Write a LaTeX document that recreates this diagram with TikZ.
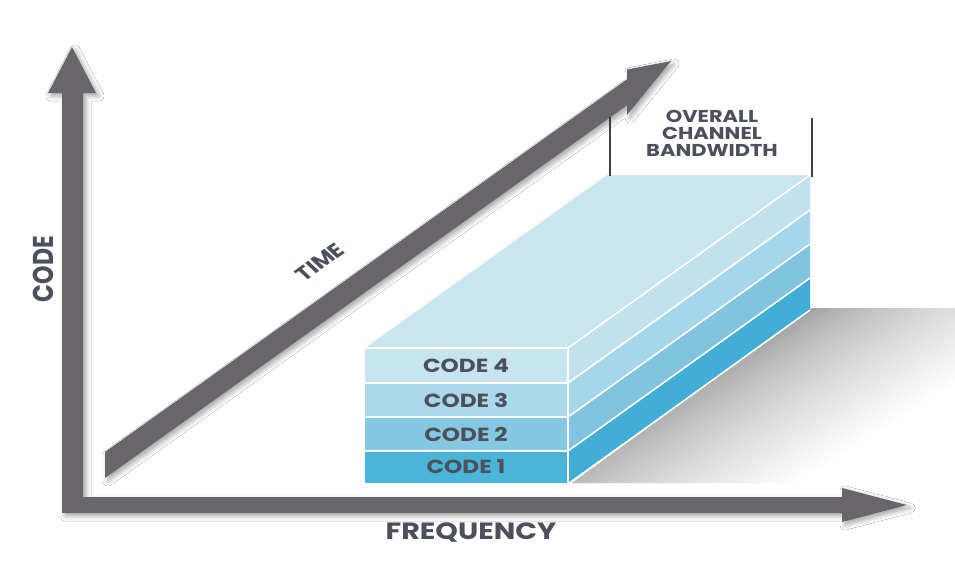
\documentclass[tikz,border=0pt]{standalone}
\usepackage{fontspec}
\setmainfont{Poppins}
\usetikzlibrary{shadows.blur}

\definecolor{axisgray}{HTML}{68666B}
\definecolor{labelgray}{HTML}{4C505B}
\definecolor{bracketgray}{HTML}{3E3E48}
\definecolor{topface}{HTML}{C9E5F0}
\definecolor{frontA}{HTML}{4BB5D9}
\definecolor{frontB}{HTML}{86C7E1}
\definecolor{frontC}{HTML}{A9D9EB}
\definecolor{frontD}{HTML}{C7E5EF}
\definecolor{sideA}{HTML}{42AED7}
\definecolor{sideB}{HTML}{82C4DF}
\definecolor{sideC}{HTML}{A6D6E9}
\definecolor{sideD}{HTML}{C2E1ED}

% text is set slightly wider than the font's natural width
\tikzset{
  bigarrow/.style={fill=axisgray, draw=none,
    blur shadow={shadow xshift=3pt, shadow yshift=-3pt,
      shadow blur radius=5pt, shadow opacity=35}},
  edge/.style={draw=white, line width=1.6pt, line join=round},
  lbl/.style={text=labelgray, inner sep=0pt, xscale=1.22},
  codelabel/.style={lbl, font=\bfseries\fontsize{19}{20}\selectfont},
  axislabel/.style={lbl, font=\bfseries\fontsize{23.5}{26}\selectfont},
  bracket/.style={draw=bracketgray, line width=2.6pt}
}

\begin{document}
\begin{tikzpicture}[x=1pt, y=-1pt]
\useasboundingbox (0,0) rectangle (955,562);
\fill[white] (0,0) rectangle (955,562);

% ground shadow behind the stack: bands of grey that lighten
% along the direction (0.53, 0.848), i.e. away from the stack
\begin{scope}
  \clip (572,483) -- (812,308) -- (955,308) -- (955,483) -- cycle;
  \foreach \k in {0,...,59} {
    \pgfmathsetmacro{\sa}{691 + 4*\k}
    \pgfmathsetmacro{\sb}{\sa + 4.6}
    \pgfmathsetmacro{\f}{min(1, (\sa - 691)/140)}
    \pgfmathsetmacro{\g}{37*(1 - \f^0.7)}
    \fill[black!\g]
      ({0.53*\sa + 763.2}, {0.848*\sa - 477})
      -- ({0.53*\sa - 763.2}, {0.848*\sa + 477})
      -- ({0.53*\sb - 763.2}, {0.848*\sb + 477})
      -- ({0.53*\sb + 763.2}, {0.848*\sb - 477}) -- cycle;
  }
\end{scope}

% code and frequency axes (one L-shaped arrow pair)
\path[bigarrow]
  (48,93) -- (72,47) -- (96,93) -- (83,93) -- (83,497) -- (842,497)
  -- (842,488) -- (907,505) -- (842,522) -- (842,513) -- (62,513)
  -- (62,93) -- cycle;

% time axis, drawn in the oblique projection
\path[bigarrow]
  (105,478) -- (105,452) -- (627,79.3) -- (627,69.5) -- (671,61)
  -- (627,115) -- (627,105.3) -- cycle;

% stack of code layers: top face
\fill[topface] (365,348) -- (568,348) -- (810,175) -- (607,175) -- cycle;

% side faces, bottom layer first
\fill[sideA] (568,483) -- (568,451) -- (810,278) -- (810,310) -- cycle;
\fill[sideB] (568,451) -- (568,417) -- (810,244) -- (810,278) -- cycle;
\fill[sideC] (568,417) -- (568,383) -- (810,210) -- (810,244) -- cycle;
\fill[sideD] (568,383) -- (568,348) -- (810,175) -- (810,210) -- cycle;

% front faces
\fill[frontA] (365,451) rectangle (568,483);
\fill[frontB] (365,417) rectangle (568,451);
\fill[frontC] (365,383) rectangle (568,417);
\fill[frontD] (365,348) rectangle (568,383);

% white separating edges
\path[edge] (365,348) -- (568,348) -- (568,483);
\path[edge] (365,383) -- (568,383) -- (810,210);
\path[edge] (365,417) -- (568,417) -- (810,244);
\path[edge] (365,451) -- (568,451) -- (810,278);
\path[edge] (568,348) -- (810,175);
\path[edge] (568,484) -- (810,310);

% layer labels
\node[codelabel] (c4) at (466,366) {CODE 4};
\node[codelabel] (c3) at (466,400) {CODE 3};
\node[codelabel] (c2) at (466,434) {CODE 2};
\node[codelabel] (c1) at (466,467) {CODE 1};

% bandwidth bracket
\coordinate (bwlt) at (610,117);
\coordinate (bwlb) at (610,176);
\coordinate (bwrt) at (812,118);
\coordinate (bwrb) at (812,177);
\draw[bracket] (bwlt) -- (bwlb);
\draw[bracket] (bwrt) -- (bwrb);
\node[lbl, align=center, font=\bfseries\fontsize{17.2}{17}\selectfont]
  (bw) at (712,133) {OVERALL\\CHANNEL\\BANDWIDTH};

% axis labels
\node[axislabel] (freq) at (471,533) {FREQUENCY};
\node[lbl, rotate=90, font=\bfseries\fontsize{23.5}{24}\selectfont]
  (code) at (43,269) {CODE};
\node[lbl, rotate=41, font=\bfseries\fontsize{19.5}{20}\selectfont]
  (time) at (320,262) {TIME};
\end{tikzpicture}
\end{document}
